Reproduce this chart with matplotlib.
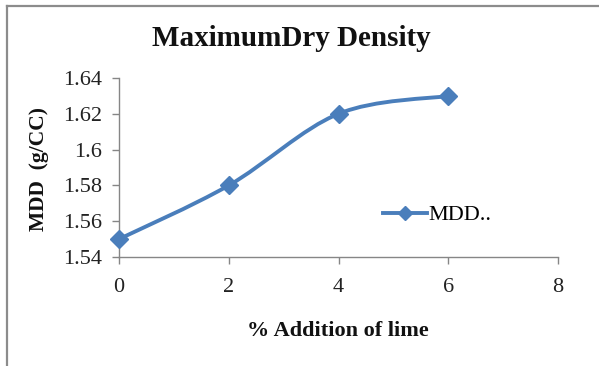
import matplotlib.pyplot as plt
from matplotlib.path import Path
from matplotlib.patches import PathPatch
from matplotlib.lines import Line2D
import numpy as np

# Data
lime_pct = [0, 2, 4, 6]
mdd = [1.55, 1.58, 1.62, 1.63]
x_ticks = [0, 2, 4, 6, 8]
y_ticks = [1.54, 1.56, 1.58, 1.60, 1.62, 1.64]
y_tick_labels = ["1.54", "1.56", "1.58", "1.6", "1.62", "1.64"]

LINE_COLOR = "#4A7EBB"
AXIS_COLOR = "#868686"
SERIF = ["Liberation Serif", "DejaVu Serif"]

plt.rcParams["font.family"] = SERIF


def smooth_path(xs, ys, tension=1 / 6):
    # Excel-style smoothed line: cubic bezier segments with catmull-rom control points
    pts = list(zip(xs, ys))
    verts = [pts[0]]
    codes = [Path.MOVETO]
    n = len(pts)
    for i in range(n - 1):
        p0 = pts[i - 1] if i > 0 else pts[i]
        p1 = pts[i]
        p2 = pts[i + 1]
        p3 = pts[i + 2] if i + 2 < n else pts[i + 1]
        c1 = (p1[0] + (p2[0] - p0[0]) * tension, p1[1] + (p2[1] - p0[1]) * tension)
        c2 = (p2[0] - (p3[0] - p1[0]) * tension, p2[1] - (p3[1] - p1[1]) * tension)
        verts += [c1, c2, p2]
        codes += [Path.CURVE4] * 3
    return Path(verts, codes)


fig = plt.figure(figsize=(5.99, 3.66), dpi=100)
ax = fig.add_axes([119 / 599, 1 - 257 / 366, (558 - 119) / 599, (257 - 78) / 366])

ax.add_patch(PathPatch(smooth_path(lime_pct, mdd), facecolor="none",
                       edgecolor=LINE_COLOR, lw=2.8, capstyle="round", zorder=3))
ax.plot(lime_pct, mdd, linestyle="none", marker="D", markersize=9,
        color=LINE_COLOR, zorder=4, clip_on=False)

ax.set_xlim(0, 8)
ax.set_ylim(1.54, 1.64)
ax.set_xticks(x_ticks)
ax.set_yticks(y_ticks)
ax.set_yticklabels(y_tick_labels)

for side in ["top", "right"]:
    ax.spines[side].set_visible(False)
for side in ["left", "bottom"]:
    ax.spines[side].set_color(AXIS_COLOR)
    ax.spines[side].set_linewidth(1.0)
ax.tick_params(axis="both", direction="out", length=5, width=1.0,
               color=AXIS_COLOR, labelsize=16, labelcolor="#222222")
ax.tick_params(axis="x", pad=10)
ax.tick_params(axis="y", pad=7)

fig.text(291 / 599, 1 - 39 / 366, "MaximumDry Density", ha="center", va="center",
         fontsize=21, fontweight="bold", color="#111111")
fig.text(39 / 599, 1 - 169 / 366, "MDD  (g/CC)", ha="center", va="center",
         rotation=90, fontsize=15.5, fontweight="bold", color="#111111")
fig.text(338 / 599, 1 - 331 / 366, "% Addition of lime", ha="center", va="center",
         fontsize=16, fontweight="bold", color="#111111")

handle = Line2D([], [], color=LINE_COLOR, lw=2.8, marker="D", markersize=7)
fig.legend([handle], ["MDD.."], loc="center left",
           bbox_to_anchor=(374 / 599, 1 - 215 / 366), frameon=False,
           fontsize=16, handlelength=2.0, handletextpad=0.05, borderaxespad=0)

# outer chart border (top and left edges visible in the reference)
fig.add_artist(Line2D([7 / 599, 1], [1 - 6 / 366, 1 - 6 / 366], color="#8c8c8c", lw=1.6))
fig.add_artist(Line2D([7 / 599, 7 / 599], [0, 1 - 6 / 366], color="#8c8c8c", lw=1.6))

fig.savefig("out.png", dpi=100)
